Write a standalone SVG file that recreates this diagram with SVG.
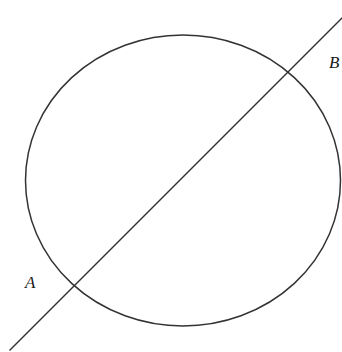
<svg xmlns="http://www.w3.org/2000/svg" width="342" height="352" viewBox="0 0 342 352">
<style>
.shape{fill:none;stroke:#333;stroke-width:1.5}
.lbl{font-family:"Liberation Serif","Times New Roman",serif;font-style:italic;font-size:17px;fill:#1a1a1a}
</style>
<rect width="342" height="352" fill="#fff"/>
<g id="circle"><ellipse class="shape" cx="183" cy="180.5" rx="157.5" ry="145.5"/></g>
<g id="connectors"><line class="shape" x1="9.5" y1="350.5" x2="344" y2="16"/></g>
<g id="labelA"><text class="lbl" x="25" y="288">A</text></g>
<g id="labelB"><text class="lbl" x="329" y="68">B</text></g>
</svg>
